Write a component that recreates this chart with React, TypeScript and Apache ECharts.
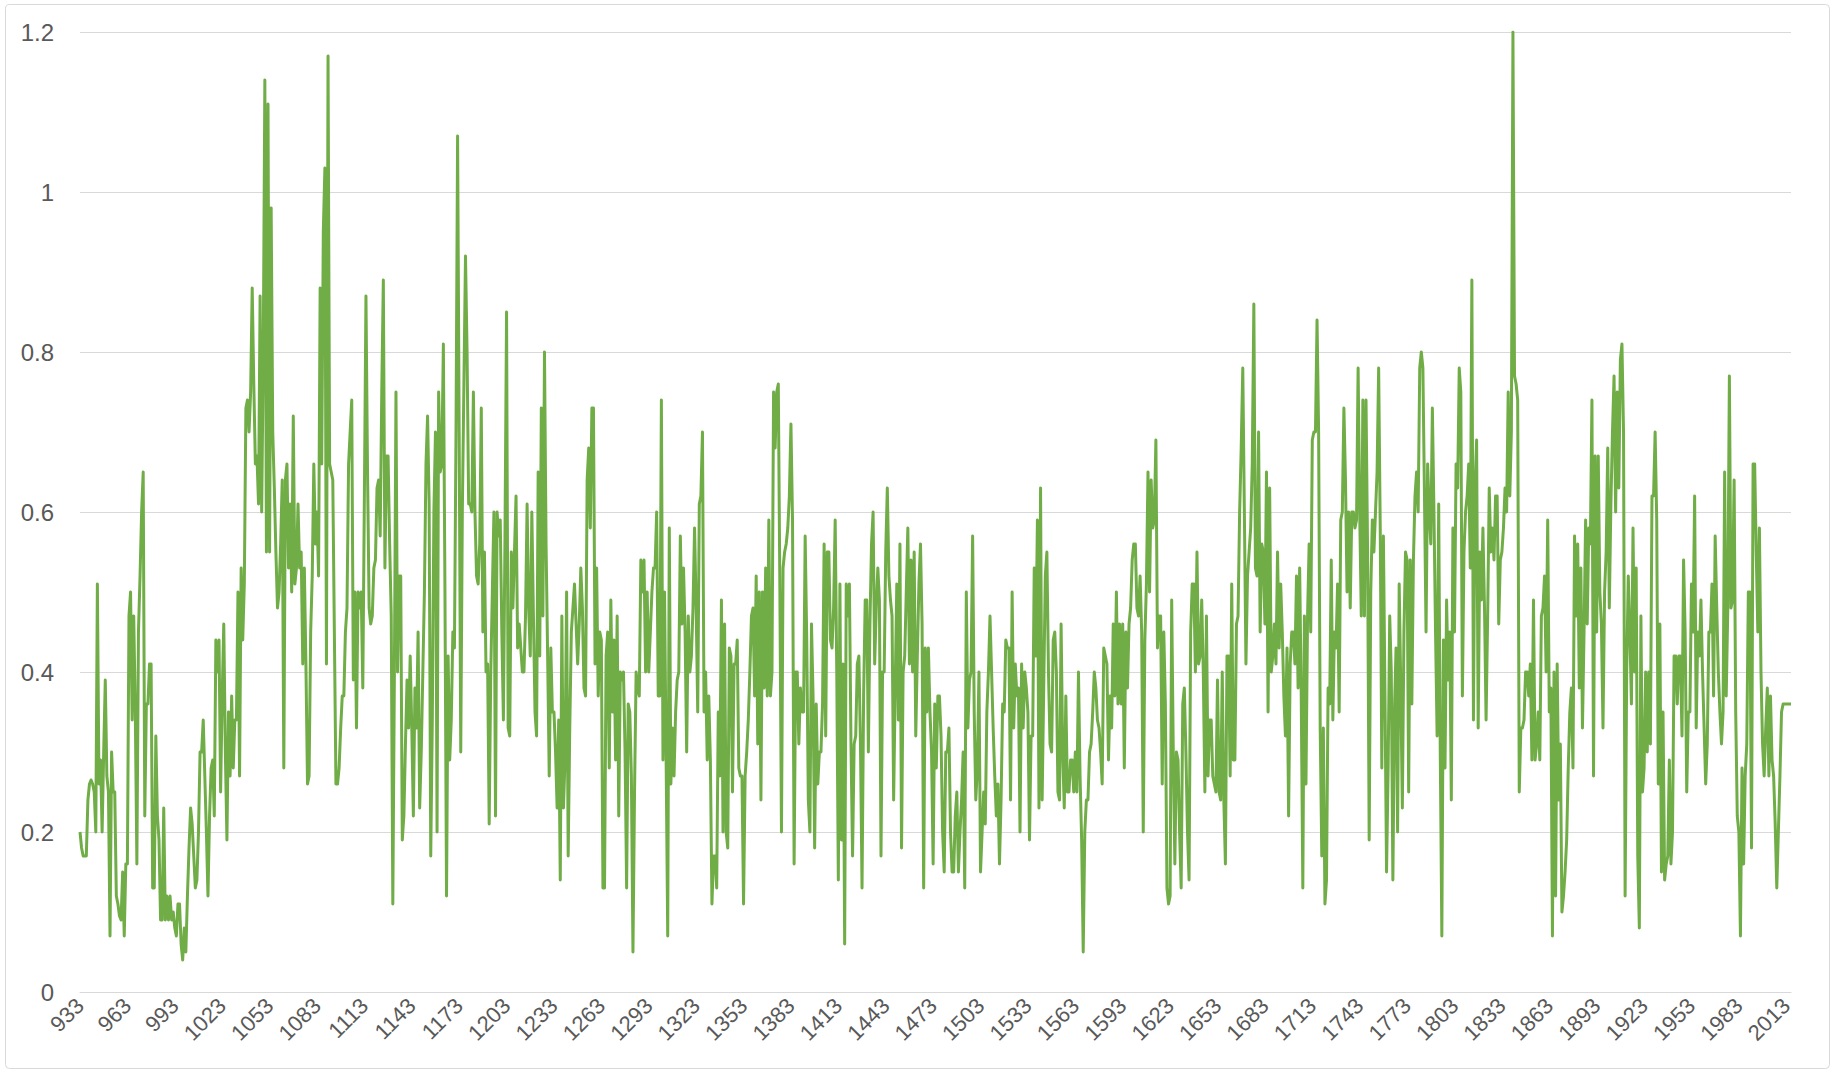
import React, { useEffect, useRef } from "react";
import * as echarts from "echarts";

const FIRST_YEAR = 933;
const LAST_YEAR = 2016;

const values_933_1020 = [0.20,0.18,0.17,0.17,0.17,0.24,0.26,0.265,0.26,0.25,
0.20,0.51,0.26,0.29,0.20,0.30,0.39,0.27,0.25,0.07,
0.30,0.25,0.25,0.12,0.11,0.095,0.09,0.15,0.07,0.16,
0.16,0.47,0.50,0.34,0.47,0.35,0.16,0.45,0.52,0.60,
0.65,0.22,0.36,0.36,0.41,0.41,0.13,0.13,0.32,0.22,
0.19,0.09,0.09,0.23,0.09,0.12,0.09,0.12,0.09,0.10,
0.08,0.07,0.11,0.11,0.06,0.04,0.08,0.05,0.12,0.18,
0.23,0.21,0.17,0.13,0.14,0.20,0.30,0.30,0.34,0.27,
0.20,0.12,0.22,0.28,0.29,0.22,0.44,0.40];

const values_1021_1111 = [0.44,0.25,0.37,0.46,0.30,0.19,0.35,0.27,0.37,0.28,
0.34,0.34,0.50,0.27,0.53,0.44,0.51,0.73,0.74,0.70,
0.75,0.88,0.76,0.66,0.67,0.61,0.87,0.60,0.80,1.14,
0.55,1.11,0.55,0.98,0.70,0.63,0.55,0.48,0.50,0.56,
0.64,0.28,0.64,0.66,0.53,0.61,0.50,0.72,0.51,0.53,
0.61,0.53,0.55,0.41,0.53,0.41,0.26,0.27,0.45,0.52,
0.66,0.56,0.60,0.52,0.88,0.66,0.95,1.03,0.41,1.17,
0.66,0.65,0.64,0.45,0.26,0.26,0.28,0.33,0.37,0.37,
0.45,0.48,0.66,0.70,0.74,0.39,0.50,0.33,0.50,0.48,
0.50];

const values_1112_1201 = [0.38,0.62,0.87,0.65,0.48,0.46,0.47,0.53,0.54,0.63,
0.64,0.57,0.75,0.89,0.53,0.67,0.67,0.56,0.47,0.11,
0.40,0.75,0.40,0.52,0.52,0.19,0.22,0.31,0.39,0.33,
0.42,0.33,0.22,0.38,0.33,0.45,0.23,0.30,0.40,0.50,
0.66,0.72,0.61,0.17,0.34,0.60,0.70,0.20,0.75,0.65,
0.66,0.81,0.50,0.12,0.42,0.29,0.34,0.45,0.43,0.70,
1.07,0.70,0.30,0.60,0.76,0.92,0.80,0.61,0.61,0.60,
0.75,0.60,0.52,0.51,0.56,0.73,0.45,0.55,0.40,0.41,
0.21,0.40,0.50,0.60,0.22,0.60,0.57,0.59,0.45,0.34];

const values_1202_1292 = [0.57,0.85,0.33,0.32,0.55,0.48,0.55,0.62,0.43,0.46,
0.43,0.40,0.40,0.47,0.61,0.48,0.42,0.60,0.47,0.35,
0.32,0.65,0.42,0.73,0.47,0.80,0.56,0.42,0.27,0.43,
0.35,0.35,0.30,0.23,0.34,0.14,0.47,0.23,0.29,0.50,
0.17,0.33,0.45,0.48,0.51,0.46,0.41,0.46,0.53,0.48,
0.38,0.37,0.64,0.68,0.58,0.73,0.73,0.41,0.53,0.37,
0.45,0.44,0.13,0.13,0.42,0.45,0.28,0.49,0.35,0.44,
0.29,0.47,0.22,0.40,0.39,0.40,0.30,0.13,0.36,0.35,
0.27,0.05,0.25,0.40,0.38,0.37,0.54,0.50,0.54,0.40,
0.50];

const values_1293_1382 = [0.40,0.45,0.50,0.53,0.53,0.60,0.37,0.37,0.74,0.29,
0.50,0.29,0.07,0.58,0.26,0.33,0.27,0.35,0.39,0.40,
0.57,0.46,0.53,0.45,0.30,0.47,0.40,0.42,0.48,0.58,
0.48,0.35,0.61,0.62,0.70,0.35,0.40,0.29,0.37,0.29,
0.11,0.17,0.17,0.13,0.35,0.27,0.49,0.20,0.46,0.20,
0.18,0.43,0.42,0.25,0.41,0.41,0.44,0.28,0.27,0.27,
0.11,0.27,0.30,0.34,0.40,0.47,0.48,0.37,0.52,0.31,
0.50,0.24,0.50,0.38,0.53,0.37,0.59,0.37,0.40,0.75,
0.68,0.75,0.76,0.50,0.20,0.53,0.55,0.56,0.58,0.62];

const values_1383_1473 = [0.71,0.59,0.16,0.40,0.40,0.31,0.38,0.35,0.35,0.57,
0.44,0.24,0.20,0.46,0.37,0.18,0.36,0.26,0.30,0.30,
0.36,0.56,0.32,0.55,0.55,0.44,0.43,0.48,0.59,0.40,
0.14,0.51,0.19,0.41,0.06,0.51,0.47,0.51,0.31,0.17,
0.31,0.32,0.41,0.42,0.31,0.13,0.37,0.49,0.49,0.30,
0.46,0.56,0.60,0.41,0.48,0.53,0.49,0.17,0.40,0.40,
0.55,0.63,0.52,0.49,0.47,0.24,0.38,0.51,0.34,0.56,
0.18,0.40,0.42,0.50,0.58,0.41,0.54,0.40,0.55,0.32,
0.42,0.51,0.56,0.46,0.13,0.43,0.35,0.43,0.35,0.30,
0.16];

const values_1474_1563 = [0.36,0.28,0.37,0.37,0.32,0.20,0.15,0.30,0.30,0.33,
0.20,0.15,0.15,0.22,0.25,0.15,0.20,0.24,0.30,0.13,
0.50,0.33,0.39,0.40,0.57,0.35,0.24,0.28,0.40,0.15,
0.20,0.25,0.21,0.35,0.40,0.47,0.40,0.33,0.27,0.22,
0.26,0.16,0.24,0.36,0.35,0.44,0.43,0.43,0.24,0.50,
0.33,0.41,0.37,0.38,0.20,0.41,0.33,0.40,0.38,0.35,
0.19,0.32,0.32,0.53,0.42,0.59,0.23,0.63,0.24,0.38,
0.52,0.55,0.40,0.31,0.30,0.44,0.45,0.40,0.25,0.24,
0.46,0.30,0.23,0.37,0.25,0.25,0.29,0.29,0.25,0.30];

const values_1564_1654 = [0.25,0.40,0.27,0.19,0.05,0.20,0.24,0.24,0.30,0.31,
0.35,0.40,0.38,0.34,0.33,0.30,0.26,0.43,0.42,0.41,
0.29,0.37,0.33,0.46,0.37,0.50,0.36,0.46,0.36,0.46,
0.28,0.45,0.38,0.46,0.48,0.54,0.56,0.56,0.48,0.47,
0.52,0.45,0.20,0.44,0.51,0.65,0.50,0.64,0.58,0.59,
0.69,0.43,0.47,0.47,0.26,0.45,0.36,0.13,0.11,0.12,
0.49,0.30,0.16,0.30,0.29,0.20,0.13,0.36,0.38,0.30,
0.20,0.14,0.45,0.51,0.51,0.40,0.55,0.41,0.42,0.49,
0.40,0.25,0.47,0.27,0.34,0.34,0.27,0.26,0.25,0.39,
0.25];

const values_1655_1744 = [0.24,0.40,0.24,0.16,0.42,0.42,0.27,0.51,0.29,0.29,
0.46,0.47,0.60,0.68,0.78,0.60,0.41,0.52,0.55,0.58,
0.66,0.86,0.53,0.52,0.70,0.45,0.56,0.55,0.46,0.65,
0.35,0.63,0.40,0.42,0.46,0.41,0.55,0.43,0.51,0.45,
0.37,0.32,0.43,0.22,0.41,0.45,0.45,0.41,0.52,0.38,
0.53,0.37,0.13,0.47,0.26,0.47,0.56,0.45,0.69,0.70,
0.70,0.84,0.70,0.33,0.17,0.33,0.11,0.14,0.38,0.36,
0.54,0.34,0.45,0.43,0.51,0.35,0.59,0.60,0.73,0.64,
0.50,0.60,0.48,0.60,0.60,0.58,0.59,0.78,0.60,0.47];

const values_1745_1835 = [0.74,0.47,0.74,0.55,0.19,0.50,0.59,0.55,0.60,0.65,
0.78,0.58,0.28,0.57,0.37,0.15,0.28,0.47,0.40,0.14,
0.35,0.43,0.20,0.51,0.38,0.23,0.45,0.55,0.54,0.25,
0.54,0.36,0.54,0.62,0.65,0.60,0.78,0.80,0.78,0.62,
0.45,0.66,0.60,0.56,0.73,0.60,0.45,0.32,0.61,0.30,
0.07,0.44,0.28,0.49,0.39,0.45,0.24,0.58,0.45,0.66,
0.63,0.78,0.75,0.37,0.55,0.60,0.62,0.66,0.53,0.89,
0.34,0.63,0.69,0.33,0.55,0.49,0.58,0.48,0.34,0.47,
0.63,0.55,0.58,0.54,0.62,0.62,0.46,0.54,0.55,0.58,
0.63];

const values_1836_1925 = [0.60,0.75,0.62,0.70,1.20,0.77,0.76,0.74,0.25,0.33,
0.33,0.34,0.40,0.40,0.37,0.41,0.29,0.49,0.29,0.31,
0.35,0.29,0.47,0.48,0.52,0.40,0.59,0.35,0.38,0.07,
0.40,0.12,0.41,0.24,0.31,0.10,0.12,0.15,0.19,0.28,
0.35,0.38,0.28,0.57,0.47,0.56,0.38,0.53,0.33,0.45,
0.59,0.46,0.58,0.56,0.74,0.27,0.67,0.45,0.67,0.50,
0.46,0.33,0.50,0.55,0.68,0.48,0.61,0.70,0.77,0.60,
0.75,0.63,0.79,0.81,0.70,0.12,0.40,0.52,0.45,0.36,
0.58,0.40,0.53,0.17,0.08,0.47,0.25,0.28,0.40,0.30];

const values_1926_2016 = [0.40,0.31,0.62,0.62,0.70,0.59,0.26,0.46,0.15,0.35,
0.14,0.16,0.17,0.29,0.16,0.20,0.42,0.42,0.36,0.42,
0.42,0.32,0.54,0.45,0.25,0.35,0.35,0.51,0.45,0.62,
0.33,0.45,0.42,0.49,0.40,0.33,0.26,0.31,0.45,0.45,
0.51,0.37,0.57,0.48,0.40,0.35,0.31,0.35,0.65,0.37,
0.48,0.77,0.48,0.49,0.64,0.35,0.22,0.20,0.07,0.28,
0.16,0.27,0.31,0.50,0.50,0.18,0.66,0.66,0.55,0.45,
0.58,0.40,0.31,0.27,0.33,0.38,0.27,0.37,0.29,0.27,
0.21,0.13,0.20,0.27,0.35,0.36,0.36,0.36,0.36,0.36,
0.36];

const Y_MIN = 0;
const Y_MAX = 1.2;
const Y_STEP = 0.2;
const LABEL_EVERY = 30;

const years: string[] = [];
for (let y = FIRST_YEAR; y <= LAST_YEAR; y++) years.push(String(y));

const seriesValues = [
  ...values_933_1020,
  ...values_1021_1111,
  ...values_1112_1201,
  ...values_1202_1292,
  ...values_1293_1382,
  ...values_1383_1473,
  ...values_1474_1563,
  ...values_1564_1654,
  ...values_1655_1744,
  ...values_1745_1835,
  ...values_1836_1925,
  ...values_1926_2016,
];

export default function App() {
  const ref = useRef<HTMLDivElement>(null);
  useEffect(() => {
    if (!ref.current) return;
    const chart = echarts.init(ref.current, null, { renderer: "svg" });
    const font = "'Liberation Sans', Arial, sans-serif";
    chart.setOption({
      animation: false,
      backgroundColor: "#ffffff",
      graphic: [
        {
          type: "rect",
          silent: true,
          z: -10,
          shape: { x: 5.5, y: 4.5, width: 1824, height: 1064, r: 4 },
          style: { fill: "none", stroke: "#d9d9d9", lineWidth: 1 },
        },
      ],
      grid: { left: 80, right: 44, top: 32, bottom: 81, containLabel: false, outerBoundsMode: "none" },
      xAxis: {
        type: "category",
        data: years,
        boundaryGap: false,
        axisLine: { show: true, lineStyle: { color: "#d9d9d9", width: 1 } },
        axisTick: { show: false },
        axisLabel: {
          interval: LABEL_EVERY - 1,
          rotate: 45,
          margin: 10,
          color: "#595959",
          fontSize: 22,
          fontFamily: font,
        },
        splitLine: { show: false },
      },
      yAxis: {
        type: "value",
        min: Y_MIN,
        max: Y_MAX,
        interval: Y_STEP,
        axisLine: { show: false },
        axisTick: { show: false },
        axisLabel: { color: "#595959", fontSize: 24, fontFamily: font, margin: 26 },
        splitLine: { lineStyle: { color: "#d9d9d9", width: 1 } },
      },
      series: [
        {
          type: "line",
          data: seriesValues,
          showSymbol: false,
          symbol: "none",
          lineStyle: { color: "#70AD47", width: 3, join: "round" },
          itemStyle: { color: "#70AD47" },
        },
      ],
    });
    return () => chart.dispose();
  }, []);
  return (
    <div
      ref={ref}
      style={{ position: "absolute", left: 0, top: 0, width: 1835, height: 1073 }}
    />
  );
}
